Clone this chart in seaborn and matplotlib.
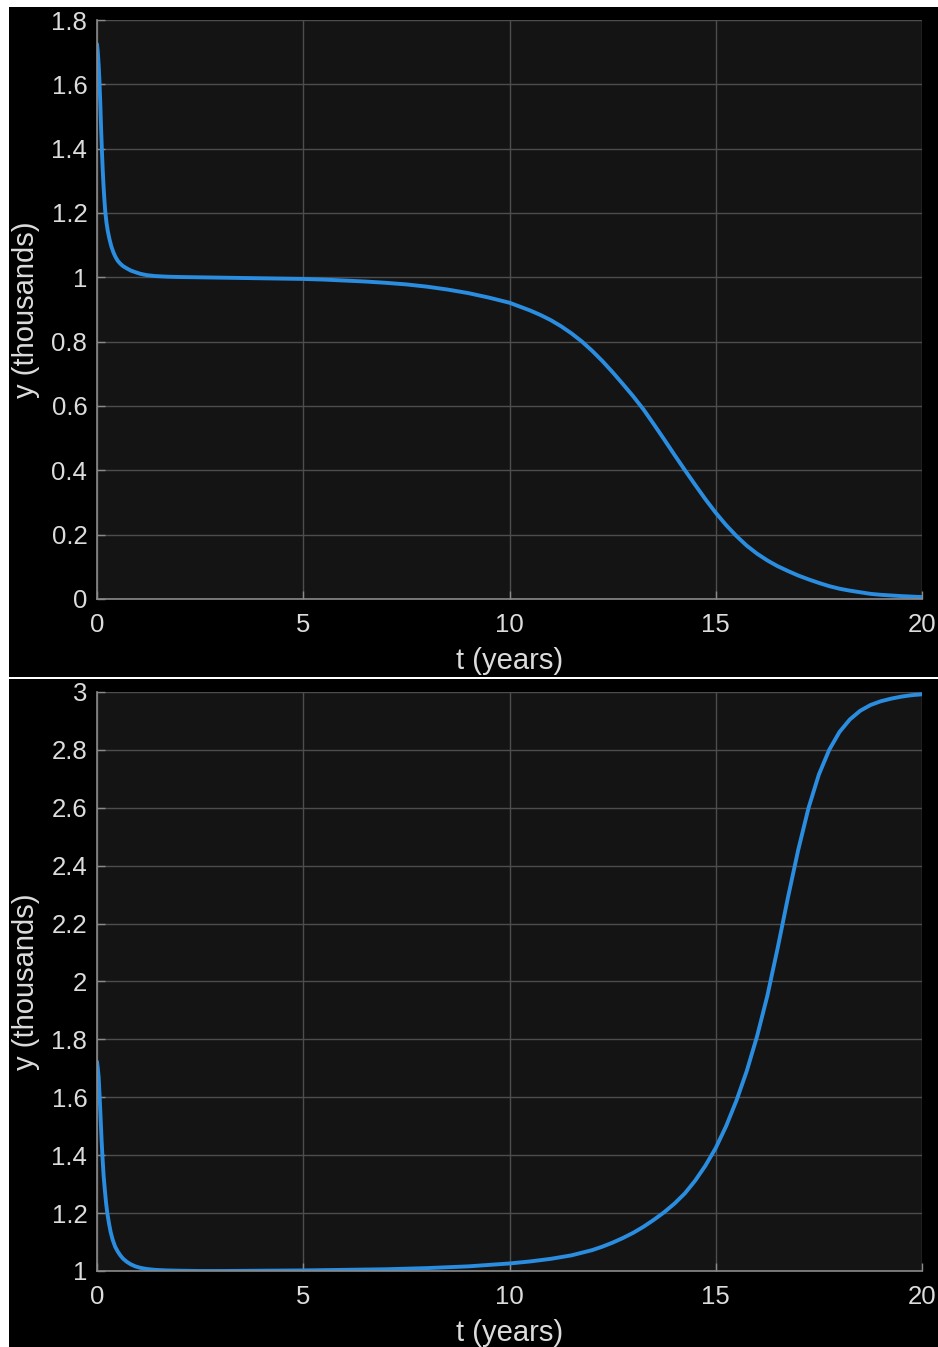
import matplotlib
matplotlib.use("Agg")
import matplotlib.pyplot as plt
from matplotlib.patches import Rectangle
import numpy as np
import pandas as pd
import seaborn as sns

# Population trajectories (thousands) over 20 years
t_top = [0.0, 0.02, 0.04, 0.06, 0.08, 0.10, 0.12, 0.14, 0.16, 0.18, 0.20, 0.23, 0.26,
         0.30, 0.35, 0.40, 0.45, 0.50, 0.56, 0.63, 0.72, 0.82, 0.93, 1.05, 1.2, 1.4,
         1.7, 2.0, 3.0, 4.0, 5.0, 5.5, 6.0, 6.5, 7.0, 7.5, 8.0, 8.5, 9.0, 9.25, 9.5,
         9.75, 10.0, 10.25, 10.5, 10.75, 11.0, 11.25, 11.5, 11.75, 12.0, 12.25, 12.5,
         12.75, 13.0, 13.25, 13.5, 13.75, 14.0, 14.25, 14.5, 14.75, 15.0, 15.25, 15.5,
         15.75, 16.0, 16.25, 16.5, 16.75, 17.0, 17.25, 17.5, 17.75, 18.0, 18.25, 18.5,
         18.75, 19.0, 19.5, 20.0]
y_top = [1.725, 1.700, 1.660, 1.610, 1.540, 1.460, 1.390, 1.330, 1.280, 1.240, 1.205, 1.170, 1.145,
         1.120, 1.095, 1.077, 1.063, 1.052, 1.043, 1.035, 1.028, 1.021, 1.016, 1.011, 1.007, 1.004,
         1.002, 1.001, 0.999, 0.997, 0.995, 0.993, 0.990, 0.987, 0.983, 0.978, 0.971, 0.962, 0.951, 0.944, 0.937,
         0.929, 0.921, 0.909, 0.897, 0.883, 0.867, 0.848, 0.826, 0.801, 0.772, 0.740, 0.705,
         0.668, 0.630, 0.589, 0.543, 0.496, 0.448, 0.401, 0.355, 0.310, 0.268, 0.230, 0.196,
         0.166, 0.141, 0.120, 0.102, 0.087, 0.073, 0.061, 0.050, 0.040, 0.032, 0.026, 0.021,
         0.016, 0.013, 0.009, 0.006]

t_bot = [0.0, 0.02, 0.04, 0.065, 0.09, 0.11, 0.13, 0.16, 0.19, 0.22, 0.25, 0.29, 0.33,
         0.38, 0.44, 0.50, 0.56, 0.63, 0.72, 0.82, 0.93, 1.05, 1.2, 1.4, 1.7, 2.0, 2.5,
         3.0, 4.0, 5.0, 6.0, 7.0, 8.0, 9.0, 9.5, 10.0, 10.5, 11.0, 11.5, 12.0, 12.25,
         12.5, 12.75, 13.0, 13.25, 13.5, 13.75, 14.0, 14.25, 14.5, 14.75, 15.0, 15.25,
         15.5, 15.75, 16.0, 16.25, 16.5, 16.75, 17.0, 17.25, 17.5, 17.75, 18.0, 18.25,
         18.5, 18.75, 19.0, 19.25, 19.5, 19.75, 20.0]
y_bot = [1.723, 1.700, 1.670, 1.600, 1.520, 1.455, 1.400, 1.330, 1.280, 1.235, 1.200, 1.165, 1.135,
         1.108, 1.084, 1.068, 1.055, 1.043, 1.032, 1.023, 1.016, 1.011, 1.007, 1.004, 1.002, 1.001, 1.000,
         1.000, 1.001, 1.002, 1.004, 1.006, 1.010, 1.016, 1.021, 1.026, 1.033, 1.042, 1.054, 1.072, 1.084,
         1.098, 1.114, 1.132, 1.153, 1.177, 1.203, 1.233, 1.268, 1.312, 1.364, 1.425, 1.500,
         1.588, 1.690, 1.810, 1.950, 2.115, 2.290, 2.455, 2.600, 2.715, 2.800, 2.862, 2.905,
         2.935, 2.955, 2.968, 2.977, 2.984, 2.989, 2.992]

x_ticks = [0, 5, 10, 15, 20]
x_tick_labels = ["0", "5", "10", "15", "20"]
y_ticks_top = [0, 0.2, 0.4, 0.6, 0.8, 1.0, 1.2, 1.4, 1.6, 1.8]
y_tick_labels_top = ["0", "0.2", "0.4", "0.6", "0.8", "1", "1.2", "1.4", "1.6", "1.8"]
y_ticks_bot = [1.0, 1.2, 1.4, 1.6, 1.8, 2.0, 2.2, 2.4, 2.6, 2.8, 3.0]
y_tick_labels_bot = ["1", "1.2", "1.4", "1.6", "1.8", "2", "2.2", "2.4", "2.6", "2.8", "3"]

x_label = "t (years)"
y_label = "y (thousands)"

sns.set_theme(style="dark")
plt.rcParams["font.family"] = ["Liberation Sans", "DejaVu Sans"]

W, H = 938, 1347
fig = plt.figure(figsize=(W / 100, H / 100), dpi=100, facecolor="white")

def fx(px):
    return px / W

def fy(py):
    return 1 - py / H

# black backdrops for the two panels
fig.patches.append(Rectangle((fx(9), fy(677)), fx(W - 9), (677 - 7) / H,
                             transform=fig.transFigure, facecolor="black",
                             edgecolor="none", zorder=-5))
fig.patches.append(Rectangle((fx(9), 0), fx(W - 9), (H - 679) / H,
                             transform=fig.transFigure, facecolor="black",
                             edgecolor="none", zorder=-5))

ax_left, ax_right = 97, 922
panels = [
    (20, 599, t_top, y_top, (0, 1.8), y_ticks_top, y_tick_labels_top),
    (692, 1271, t_bot, y_bot, (1, 3), y_ticks_bot, y_tick_labels_bot),
]

line_color = "#2a8de0"
face = "#141414"
grid_c = "#4d4d4d"
spine_c = "#8a8a8a"
text_c = "#dcdcdc"

for top, bottom, tx, ty, ylim, yt, ytl in panels:
    ax = fig.add_axes([fx(ax_left), fy(bottom), (ax_right - ax_left) / W, (bottom - top) / H])
    ax.set_facecolor(face)
    df = pd.DataFrame({"t": tx, "y": ty})
    sns.lineplot(data=df, x="t", y="y", ax=ax, color=line_color, linewidth=2.8,
                 estimator=None, sort=True)
    ax.set_xlim(0, 20)
    ax.set_ylim(*ylim)
    ax.set_xticks(x_ticks)
    ax.set_xticklabels(x_tick_labels)
    ax.set_yticks(yt)
    ax.set_yticklabels(ytl)
    ax.grid(True, color=grid_c, linewidth=1.0)
    ax.set_axisbelow(True)
    for side in ["top", "right"]:
        ax.spines[side].set_visible(False)
    for side in ["left", "bottom"]:
        ax.spines[side].set_visible(True)
        ax.spines[side].set_color(spine_c)
        ax.spines[side].set_linewidth(1.2)
        ax.spines[side].set_zorder(3)
    ax.tick_params(axis="both", which="major", direction="in", length=6,
                   width=1.0, color=spine_c, labelcolor=text_c, labelsize=18.5,
                   left=True, bottom=True)
    ax.tick_params(axis="y", pad=7)
    ax.tick_params(axis="x", pad=10)
    ax.set_xlabel(x_label, color=text_c, fontsize=21, labelpad=7)
    ax.set_ylabel(y_label, color=text_c, fontsize=21, labelpad=8)

fig.savefig("out.png", dpi=100, facecolor=fig.get_facecolor())
